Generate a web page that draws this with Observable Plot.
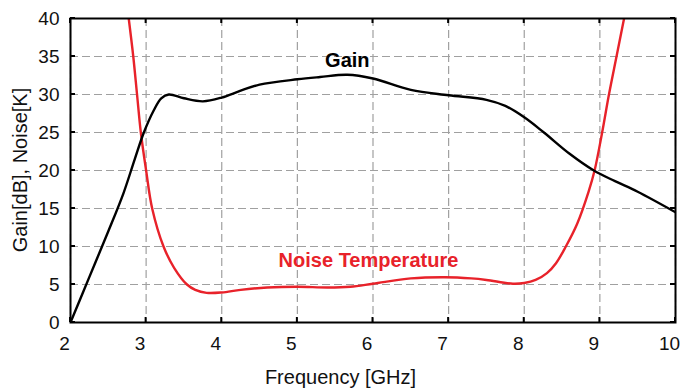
<!DOCTYPE html>
<html>
<head>
<meta charset="utf-8">
<script src="https://cdn.jsdelivr.net/npm/d3@7"></script>
<script src="https://cdn.jsdelivr.net/npm/@observablehq/plot@0.6"></script>
<style>
  html, body { margin: 0; padding: 0; background: #fff; }
  svg { font-family: "Liberation Sans", Arial, sans-serif; }
</style>
</head>
<body>
<div id="chart"></div>
<script>
const gainFreq = [2, 2.25, 2.5, 2.7, 2.85, 2.97, 3.1, 3.2, 3.3, 3.5, 3.75, 4.0, 4.25, 4.5, 5.0, 5.3, 5.66, 6.0, 6.5, 7.0, 7.5, 7.75, 8.0, 8.26, 8.6, 8.92, 9.2, 9.5, 10];
const gain     = [0, 6, 12, 17, 21.5, 25, 27.9, 29.5, 30.0, 29.5, 29.1, 29.6, 30.5, 31.3, 32.0, 32.3, 32.6, 32.1, 30.6, 29.9, 29.3, 28.5, 27.0, 25.0, 22.2, 20.0, 18.6, 17.2, 14.5];

const noiseFreq = [2.77, 2.83, 2.88, 2.93, 3.0, 3.08, 3.23, 3.37, 3.54, 3.65, 3.8, 4.0, 4.25, 4.6, 5.0, 5.4, 5.7, 6.0, 6.5, 6.95, 7.3, 7.5, 7.85, 8.0, 8.15, 8.3, 8.42, 8.55, 8.7, 8.85, 8.93, 9.03, 9.12, 9.22, 9.32];
const noise     = [40, 35, 30, 25, 20, 15, 10, 7.2, 5.0, 4.3, 3.9, 3.95, 4.3, 4.6, 4.7, 4.6, 4.7, 5.1, 5.8, 5.95, 5.8, 5.6, 5.1, 5.2, 5.6, 6.5, 7.8, 10, 13, 17.2, 20, 25, 30, 35, 40];

const xTicks = [2, 3, 4, 5, 6, 7, 8, 9, 10];
const yTicks = [0, 5, 10, 15, 20, 25, 30, 35, 40];

const labelText = ["Gain", "Noise Temperature"];
const labelX = [5.66, 5.94];
const labelY = [34.5, 8.2];
const labelColor = ["black", "#e8222a"];

const gainData = gainFreq.map((f, i) => ({f, v: gain[i]}));
const noiseData = noiseFreq.map((f, i) => ({f, v: noise[i]}));
const labels = labelText.map((t, i) => ({t, x: labelX[i], y: labelY[i], c: labelColor[i]}));

const W = 681, H = 390, ML = 70, MR = 6, MT = 18, MB = 68;

const chart = Plot.plot({
  width: W,
  height: H,
  marginLeft: ML,
  marginRight: MR,
  marginTop: MT,
  marginBottom: MB,
  style: {fontFamily: "'Liberation Sans', Arial, sans-serif", fontSize: "19px", color: "#111", background: "white"},
  x: {type: "linear", domain: [2, 10]},
  y: {type: "linear", domain: [0, 40]},
  marks: [
    Plot.gridX(xTicks, {stroke: "#a0a0a0", strokeOpacity: 1, strokeWidth: 1.2, strokeDasharray: "8,4"}),
    Plot.gridY(yTicks, {stroke: "#a0a0a0", strokeOpacity: 1, strokeWidth: 1.2, strokeDasharray: "8,4"}),
    Plot.line(noiseData, {x: "f", y: "v", stroke: "#e8222a", strokeWidth: 2.4, curve: "catmull-rom", clip: true}),
    Plot.line(gainData, {x: "f", y: "v", stroke: "black", strokeWidth: 2.4, curve: "catmull-rom", clip: true}),
    Plot.text(labels, {x: "x", y: "y", text: "t", fill: "c", fontWeight: "bold", fontSize: 20}),
    Plot.frame({stroke: "black", strokeWidth: 2}),
    Plot.axisX(xTicks, {anchor: "bottom", tickSize: 0, tickPadding: 14, dx: -6, fontSize: 19, label: null, fill: "#111"}),
    Plot.axisY(yTicks, {anchor: "left", tickSize: 0, tickPadding: 11, fontSize: 19, label: null, fill: "#111"})
  ]
});

// inward tick marks drawn along each side using the chart's scales
const sx = chart.scale("x"), sy = chart.scale("y");
const svg = d3.select(chart);
const g = svg.append("g").attr("stroke", "black").attr("stroke-width", 2);
const x0 = sx.apply(2), x1 = sx.apply(10), y0 = sy.apply(0), y1 = sy.apply(40);
const TL = 5;
xTicks.forEach(t => {
  const px = sx.apply(t);
  g.append("line").attr("x1", px).attr("x2", px).attr("y1", y0).attr("y2", y0 - TL);
  g.append("line").attr("x1", px).attr("x2", px).attr("y1", y1).attr("y2", y1 + TL);
});
yTicks.forEach(t => {
  const py = sy.apply(t);
  g.append("line").attr("x1", x0).attr("x2", x0 + TL).attr("y1", py).attr("y2", py);
  g.append("line").attr("x1", x1).attr("x2", x1 - TL).attr("y1", py).attr("y2", py);
});

svg.append("text")
  .attr("x", W / 2).attr("y", 384)
  .attr("text-anchor", "middle")
  .attr("font-size", 20).attr("fill", "#111")
  .text("Frequency [GHz]");
svg.append("text")
  .attr("transform", `translate(27,${(y0 + y1) / 2}) rotate(-90)`)
  .attr("text-anchor", "middle")
  .attr("font-size", 20).attr("fill", "#111")
  .text("Gain[dB], Noise[K]");

document.getElementById("chart").appendChild(chart);
</script>
</body>
</html>
